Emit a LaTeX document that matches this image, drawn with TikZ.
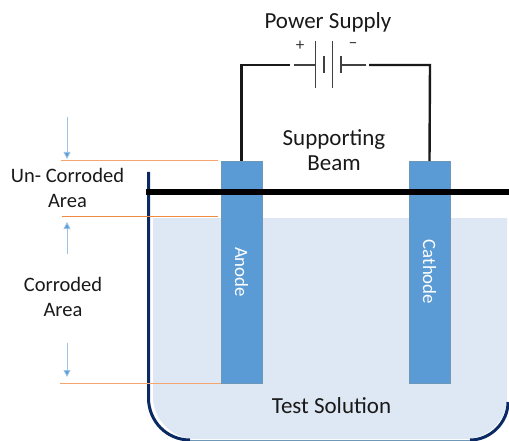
\documentclass[tikz,border=0pt]{standalone}
\usepackage{fontspec}
\setmainfont{Carlito}
\usetikzlibrary{arrows.meta}
\definecolor{barblue}{HTML}{5B9BD5}
\definecolor{baredge}{HTML}{6F97B8}
\definecolor{liquid}{HTML}{DEE8F4}
\definecolor{tank}{HTML}{0B2A63}
\definecolor{darrow}{HTML}{9DC3E6}
\definecolor{ordark}{HTML}{F08A40}
\definecolor{peachline}{HTML}{F6A56E}
\tikzset{
  x=1pt,y=-1pt,
  electrode/.style={draw=baredge,line width=0.8pt,fill=barblue,minimum width=41pt,minimum height=222pt,inner sep=0pt,anchor=north west,outer sep=0pt},
  elabel/.style={text=white,font=\fontsize{18.8}{22}\selectfont,rotate=-90},
  lbl/.style={font=\fontsize{23}{25}\selectfont,align=center,text=black!90},
  sidelbl/.style={font=\fontsize{20.5}{25}\selectfont,align=center,text=black!90},
  wire/.style={black!90,line width=2.4pt},
  cell/.style={black!75,line width=1.2pt},
  sign/.style={font=\fontsize{17}{17}\selectfont,text=black!80,inner sep=0pt},
  dim/.style={darrow,line width=0.9pt,-{Triangle[length=7pt,width=7pt,fill=barblue]}},
}
\begin{document}
\begin{tikzpicture}
\useasboundingbox (0,0) rectangle (509,441);
% liquid
\fill[liquid] (153,218) -- (507,218) -- (507,397) .. controls (507,421) and (488,439) .. (464,439) -- (195,439) .. controls (172,439) and (153,419) .. (153,397) -- cycle;
% tank wall
\draw[baredge,line width=1pt] (189,440.5) -- (472,440.5);
\draw[tank,line width=3pt] (148.5,172) -- (148.5,398) .. controls (148.5,421) and (166.5,440) .. (190,440);
\draw[tank,line width=3pt] (470,440) .. controls (490,440) and (508,423) .. (508,402);
% electrodes
\node[electrode] (anode) at (221,161) {};
\node[electrode] (cathode) at (409,161) {};
\node[elabel] at (241.5,272) {Anode};
\node[elabel] at (429.5,272) {Cathode};
% beam
\draw[black,line width=5.5pt] (146,192) -- (509,192);
% orange lines
\coordinate (u1) at (61,161); \coordinate (u2) at (218,161);
\coordinate (m1) at (62,216.5); \coordinate (m2) at (218,216.5);
\coordinate (c1) at (60,383); \coordinate (c2) at (221,383);
\draw[peachline,line width=1pt] (u1) -- (u2);
\draw[ordark,line width=1pt] (m1) -- (m2);
\draw[peachline,line width=1pt] (c1) -- (c2);
% battery
\coordinate (bl) at (294,65);
\coordinate (br) at (366,65);
\coordinate (p1) at (316,65);
\coordinate (p2) at (341,65);
\draw[wire] (anode.north) -- (241.5,65) -- (290,65);
\draw[wire] (cathode.north) -- (430,65) -- (369,65);
\draw[cell] (bl) -- (p1);
\draw[cell] (p2) -- (br);
\draw[cell] (315.5,41) -- (315.5,88);
\draw[cell] (324,56) -- (324,73);
\draw[cell] (332.5,41) -- (332.5,88);
\draw[cell] (341,56) -- (341,73);
\node[sign] at (300,45.5) {+};
\node[sign] at (353,45.5) {\textminus};
% texts
\node[lbl] at (328,22) {Power Supply};
\node[lbl] at (334,150.5) {Supporting\\Beam};
\node[sidelbl] at (67.5,187.5) {Un- Corroded\\Area};
\node[sidelbl] at (63,296.5) {Corroded\\Area};
\node[lbl] at (331.5,406) {Test Solution};
% dimension arrows
\coordinate (a1) at (67,117); \coordinate (a2) at (67,159);
\coordinate (b1) at (67,254); \coordinate (b2) at (67,222);
\coordinate (d1) at (67,343); \coordinate (d2) at (67,377);
\draw[dim] (a1) -- (a2);
\draw[dim] (b1) -- (b2);
\draw[dim] (d1) -- (d2);
\end{tikzpicture}
\end{document}
